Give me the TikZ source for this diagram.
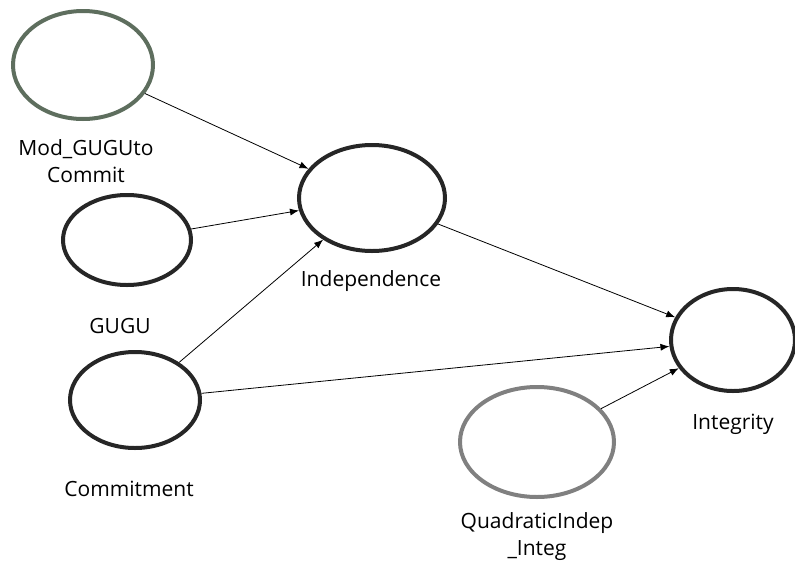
\documentclass[tikz,border=0pt]{standalone}
\usepackage{fontspec}
\setmainfont{Open Sans}
\usetikzlibrary{shapes.geometric,arrows.meta}
\definecolor{modgreen}{HTML}{5E6E5E}
\definecolor{quadgray}{HTML}{808080}
\definecolor{darkline}{HTML}{262626}
\begin{document}
\begin{tikzpicture}[x=1pt,y=-1pt,
  lv/.style={ellipse,draw=darkline,line width=4pt,inner sep=0pt,fill=white},
  lbl/.style={font=\fontsize{21}{27}\selectfont,align=center,text=black,inner sep=0pt},
  conn/.style={line width=0.8pt,-{Latex[length=9pt,width=7pt]}}]
\useasboundingbox (0,0) rectangle (795,560);
\node[lv,draw=modgreen,minimum width=140pt,minimum height=108pt] (mod) at (83,65) {};
\node[lv,minimum width=128pt,minimum height=90pt] (gugu) at (127,240) {};
\node[lv,minimum width=130pt,minimum height=96pt] (com) at (135,400) {};
\node[lv,minimum width=146pt,minimum height=106pt] (ind) at (372,198) {};
\node[lv,minimum width=124pt,minimum height=102pt] (int) at (733,340) {};
\node[lv,draw=quadgray,minimum width=154pt,minimum height=110pt] (quad) at (537,442) {};
\node[lbl] (modl) at (86,161) {Mod\_GUGUto\\Commit};
\node[lbl] (gugul) at (120,326) {GUGU};
\node[lbl] (coml) at (129,489) {Commitment};
\node[lbl] (indl) at (371,281) {Independence};
\node[lbl] (intl) at (733,424) {Integrity};
\node[lbl] (quadl) at (537,537) {QuadraticIndep\\\_Integ};
\draw[conn] (mod) -- (ind);
\draw[conn] (gugu) -- (ind);
\draw[conn] (com) -- (ind);
\draw[conn] (ind) -- (int);
\draw[conn] (com) -- (int);
\draw[conn] (quad) -- (int);
\end{tikzpicture}
\end{document}
